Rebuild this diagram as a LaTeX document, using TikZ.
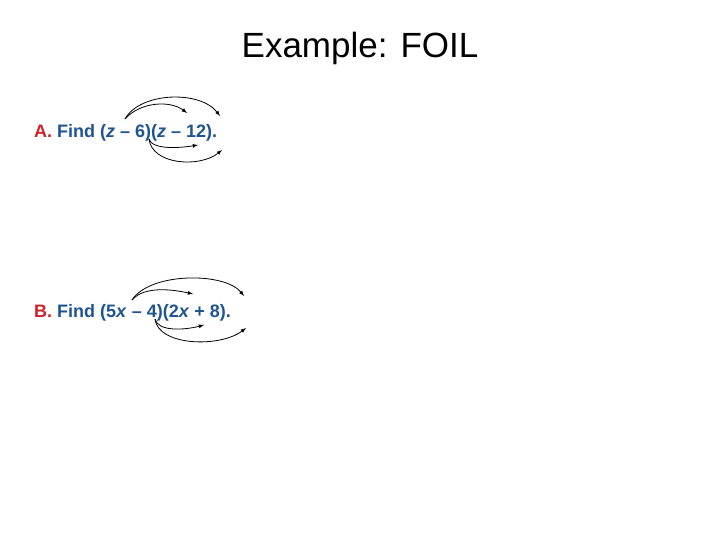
\documentclass[tikz,border=0pt]{standalone}
\usepackage{fontspec}
\setmainfont{Liberation Sans}
\definecolor{lblred}{RGB}{205,35,45}
\definecolor{lblblue}{RGB}{30,85,145}
\begin{document}
\begin{tikzpicture}[x=1pt,y=-1pt,
  prob/.style={anchor=base west,inner sep=0,font=\fontsize{18}{20}\selectfont\bfseries,text=lblblue},
  arr/.style={-latex,thick,black}]
\useasboundingbox[fill=white] (0,0) rectangle (720,540);
\node[anchor=base,inner sep=0,font=\fontsize{35}{40}\selectfont] (title) at (360,58) {Example: FOIL};
\node[prob] (a) at (34,138) {\textcolor{lblred}{A.} Find (\textit{z} -- 6)(\textit{z} -- 12).};
\node[prob] (b) at (34,317) {\textcolor{lblred}{B.} Find (5\textit{x} -- 4)(2\textit{x} + 8).};
\coordinate (a1) at (125,119); \coordinate (a2) at (187,113); \coordinate (a3) at (220,116);
\coordinate (a4) at (149,139); \coordinate (a5) at (198,145); \coordinate (a6) at (222,150);
\draw[arr] (a1) .. controls (140,102) and (170,100) .. (a2);
\draw[arr] (a1) .. controls (140,92) and (200,90) .. (a3);
\draw[arr] (a4) .. controls (152,150) and (180,148) .. (a5);
\draw[arr] (a4) .. controls (152,165) and (200,168) .. (a6);
\coordinate (b1) at (132,300); \coordinate (b2) at (193,294); \coordinate (b3) at (244,296);
\coordinate (b4) at (155,319); \coordinate (b5) at (204,325); \coordinate (b6) at (246,328);
\draw[arr] (b1) .. controls (145,285) and (175,290) .. (b2);
\draw[arr] (b1) .. controls (150,272) and (225,272) .. (b3);
\draw[arr] (b4) .. controls (158,332) and (185,330) .. (b5);
\draw[arr] (b4) .. controls (158,346) and (220,348) .. (b6);
\end{tikzpicture}
\end{document}
